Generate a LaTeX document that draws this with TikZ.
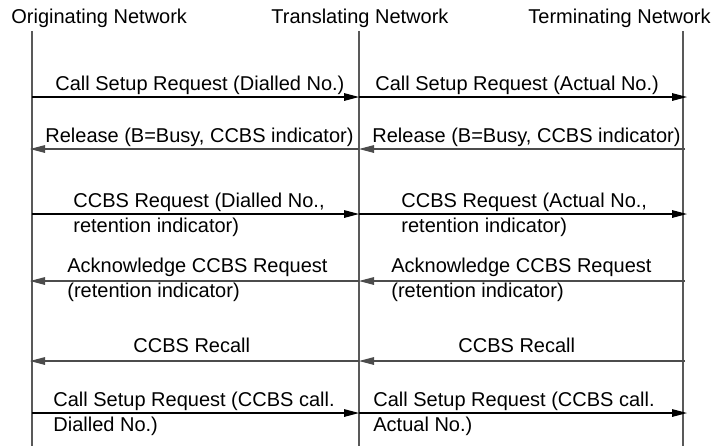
\documentclass[tikz,border=0pt]{standalone}
\usepackage{fontspec}
\setmainfont{Liberation Sans}
\usetikzlibrary{arrows.meta}
\begin{document}
\begin{tikzpicture}[x=0.5pt,y=-0.5pt,
  every node/.style={font=\fontsize{10}{12.5}\selectfont, inner sep=0pt},
  lbl/.style={anchor=base west},
  hdr/.style={anchor=base west},
  life/.style={line width=0.55pt, draw=black!65},
  msg/.style={line width=0.55pt, draw=black, -{Triangle[length=7.5pt,width=3.8pt]}},
  msgg/.style={line width=0.55pt, draw=black!70, -{Triangle[length=7.5pt,width=3.8pt]}}]
\useasboundingbox (0,0) rectangle (715,446);
% headers
\node[hdr] (hO) at (11,23) {Originating Network};
\node[hdr] (hT) at (271,23) {Translating Network};
\node[hdr] (hE) at (528,23) {Terminating Network};
% lifelines
\coordinate (Otop) at (32,31); \coordinate (Obot) at (32,446);
\coordinate (Ttop) at (359,31); \coordinate (Tbot) at (359,446);
\coordinate (Etop) at (683,31); \coordinate (Ebot) at (683,446);
\draw[life] (Otop) -- (Obot);
\draw[life] (Ttop) -- (Tbot);
\draw[life] (Etop) -- (Ebot);
% message end points
\foreach \n/\y in {1/97,2/149,3/214,4/281,5/361,6/413}{
  \coordinate (a\n) at (32,\y);
  \coordinate (b\n) at (359,\y);
  \coordinate (c\n) at (685,\y);
  \coordinate (d\n) at (687,\y);
  \coordinate (e\n) at (30,\y);
}
% 1
\draw[msg] (a1) -- (b1);
\draw[msg] (b1) -- (d1);
\node[lbl] (m1a) at (55,90) {Call Setup Request (Dialled No.)};
\node[lbl] (m1b) at (375,90) {Call Setup Request (Actual No.)};
% 2
\draw[msgg] (b2) -- (e2);
\draw[msgg] (c2) -- (b2);
\node[lbl] (m2a) at (45,142) {Release (B=Busy, CCBS indicator)};
\node[lbl] (m2b) at (372,142) {Release (B=Busy, CCBS indicator)};
% 3
\draw[msg] (a3) -- (b3);
\draw[msg] (b3) -- (d3);
\node[lbl] (m3a) at (73,207) {CCBS Request (Dialled No.,};
\node[lbl] (m3a2) at (73,232) {retention indicator)};
\node[lbl] (m3b) at (401,207) {CCBS Request (Actual No.,};
\node[lbl] (m3b2) at (401,232) {retention indicator)};
% 4
\draw[msgg] (b4) -- (e4);
\draw[msgg] (c4) -- (b4);
\node[lbl] (m4a) at (67,272) {Acknowledge CCBS Request};
\node[lbl] (m4a2) at (67,297) {(retention indicator)};
\node[lbl] (m4b) at (391,272) {Acknowledge CCBS Request};
\node[lbl] (m4b2) at (391,297) {(retention indicator)};
% 5
\draw[msgg] (b5) -- (e5);
\draw[msgg] (c5) -- (b5);
\node[lbl] (m5a) at (133,352) {CCBS Recall};
\node[lbl] (m5b) at (458,352) {CCBS Recall};
% 6
\draw[msg] (a6) -- (b6);
\draw[msg] (b6) -- (d6);
\node[lbl] (m6a) at (53,406) {Call Setup Request (CCBS call.};
\node[lbl] (m6a2) at (53,431) {Dialled No.)};
\node[lbl] (m6b) at (373,406) {Call Setup Request (CCBS call.};
\node[lbl] (m6b2) at (373,431) {Actual No.)};
\end{tikzpicture}
\end{document}
